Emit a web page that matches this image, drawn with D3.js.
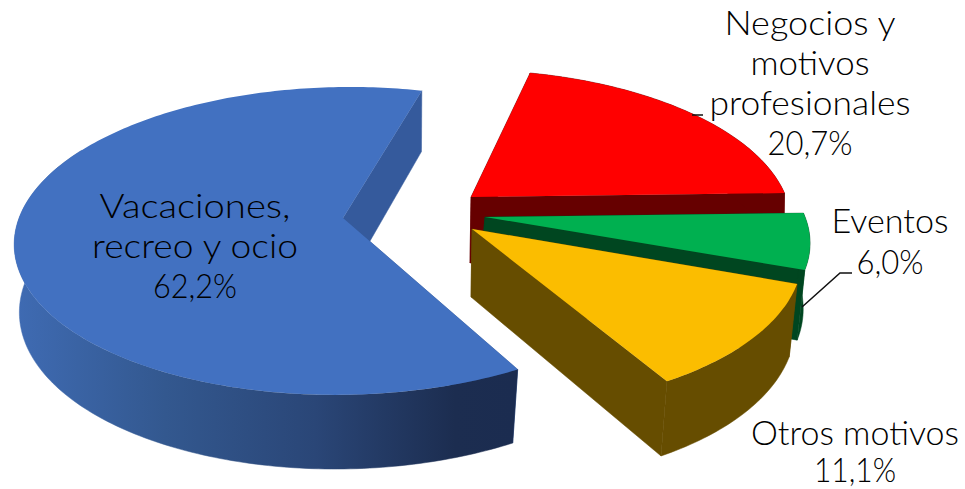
<!DOCTYPE html>
<html>
<head>
<meta charset="utf-8">
<script src="https://cdnjs.cloudflare.com/ajax/libs/d3/7.8.5/d3.min.js"></script>
<style>
  html, body { margin: 0; padding: 0; background: #fff; }
  svg { display: block; }
  text { font-family: "Lato", "Noto Sans", sans-serif; font-weight: 300; font-size: 34px; fill: #000; text-anchor: middle; }
</style>
</head>
<body>
<svg id="chart" width="965" height="489"></svg>
<script>
// Motivos de viaje, porcentaje sobre el total
const categories = ["Vacaciones, recreo y ocio", "Negocios y motivos profesionales", "Eventos", "Otros motivos"];
const shares = [62.2, 20.7, 6.0, 11.1];

const topColors = ["#4271C1", "#FF0000", "#00B050", "#FBBD00"];
const wallColors = ["#355A9C", "#660000", "#004620", "#664D00"];

// Rim of the pie, from light to dark as it turns towards the front right
const rimStops = [[0, "#3F6BB3"], [0.3, "#33588F"], [0.6, "#2A4677"], [0.88, "#1C2D50"], [1, "#1B2C50"]];

// Perspective of each exploded wedge: hub position and radii on the top and bottom planes
const topPlanes = [
  { x: 343, y: 218, rx: 325, ry: 150.5, shear: -1, tilt: -3, persp: 0.149 },
  { x: 471, y: 197, rx: 313, ry: 146, shear: 19, tilt: -5, persp: 0.149 },
  { x: 485, y: 217, rx: 318, ry: 146, shear: 19, tilt: -5, persp: 0.149 },
  { x: 472, y: 229, rx: 323, ry: 153, shear: 20, tilt: -6, persp: 0.149 }
];
const bottomPlanes = [
  { x: 343, y: 288, rx: 321, ry: 158, shear: 0, tilt: -4, persp: 0.127 },
  { x: 470, y: 263, rx: 313, ry: 160, shear: 22, tilt: -4, persp: 0.127 },
  { x: 479, y: 281, rx: 318, ry: 160, shear: 22, tilt: -4, persp: 0.127 },
  { x: 471, y: 297, rx: 318, ry: 162, shear: 22, tilt: -4, persp: 0.127 }
];

// Text blocks: wrapped lines, centre and baseline of the first line
const labelBlocks = [
  { lines: ["Vacaciones,", "recreo y ocio"], cx: 195, y: 218, pitch: 40, widths: [191, 206, 84] },
  { lines: ["Negocios y", "motivos", "profesionales"], cx: 810, y: 35, pitch: 40, widths: [171, 119, 201, 85] },
  { lines: ["Eventos"], cx: 890, y: 233, pitch: 41, widths: [117, 67] },
  { lines: ["Otros motivos"], cx: 855, y: 445, pitch: 37, widths: [208, 82] }
];

const leaderLines = [
  [[692, 115], [703, 115]],
  [[802, 307], [840, 273], [852, 273]]
];

const svg = d3.select("#chart");
const color = d3.scaleOrdinal().domain(categories).range(topColors);
const wallColor = d3.scaleOrdinal().domain(categories).range(wallColors);
const fmt = v => d3.format(".1f")(v).replace(".", ",") + "%";
const rad = d => d * Math.PI / 180;

// Project a unit-circle point at pie angle a onto one of a wedge's planes
function project(plane, a) {
  const X = Math.sin(a), Y = -Math.cos(a);
  const w = 1 - plane.persp * Y;
  return [
    plane.x + (plane.rx * X + plane.shear * Y) / w,
    plane.y + (plane.ry * Y + plane.tilt * X) / w
  ];
}

function arcPoints(plane, a0, a1) {
  const n = Math.max(8, Math.ceil((a1 - a0) / rad(1)));
  return d3.range(n + 1).map(i => project(plane, a0 + (a1 - a0) * i / n));
}

const pie = d3.pie().sort(null).startAngle(rad(152)).endAngle(rad(152) + 2 * Math.PI);
const wedges = pie(shares);
const outline = d3.line().curve(d3.curveLinear);
const lastVisibleRim = rad(300);

const gradient = svg.append("defs").append("linearGradient")
  .attr("id", "rim").attr("gradientUnits", "userSpaceOnUse")
  .attr("x1", 15).attr("x2", 515).attr("y1", 0).attr("y2", 0);
gradient.selectAll("stop").data(rimStops).join("stop")
  .attr("offset", d => d[0]).attr("stop-color", d => d[1]);

// Back to front: red, green, yellow, then the large blue wedge
const order = [1, 2, 3, 0];
const groups = svg.selectAll("g.wedge").data(order).join("g").attr("class", "wedge");

groups.each(function (i) {
  const g = d3.select(this);
  const w = wedges[i], top = topPlanes[i], bot = bottomPlanes[i];
  const cat = categories[i];
  const wall = wallColor(cat);

  // Cut faces, hub to rim on both sides of the wedge
  [w.startAngle, w.endAngle].forEach(a => {
    const face = [[top.x, top.y], project(top, a), project(bot, a), [bot.x, bot.y]];
    g.append("path").attr("d", outline(face) + "Z")
      .attr("fill", wall).attr("stroke", wall).attr("stroke-width", 0.5);
  });

  // Rim wall between the two arcs; the big wedge's rim stops where it turns away from the viewer
  const rimEnd = w.startAngle < lastVisibleRim ? Math.min(w.endAngle, lastVisibleRim) : w.endAngle;
  const upperRim = arcPoints(top, w.startAngle, rimEnd);
  const lowerRim = arcPoints(bot, w.startAngle, rimEnd).reverse();
  const rimPaint = i === 0 ? "url(#rim)" : wall;
  g.append("path").attr("d", outline(upperRim.concat(lowerRim)) + "Z")
    .attr("fill", rimPaint).attr("stroke", rimPaint).attr("stroke-width", 0.5);

  // Top face
  const upper = arcPoints(top, w.startAngle, w.endAngle);
  g.append("path").attr("d", outline([[top.x, top.y]].concat(upper)) + "Z")
    .attr("fill", color(cat));
});

// Leader lines to the outer labels
svg.selectAll("path.leader").data(leaderLines).join("path")
  .attr("class", "leader").attr("d", d => outline(d))
  .attr("fill", "none").attr("stroke", "#111").attr("stroke-width", 1.5);

// Labels: wrapped category name, then the share on its own line
labelBlocks.forEach((block, i) => {
  const rows = block.lines.concat(fmt(shares[i]));
  svg.append("g").selectAll("text").data(rows).join("text")
    .attr("x", block.cx)
    .attr("y", (d, k) => block.y + k * block.pitch)
    .attr("textLength", (d, k) => block.widths[k])
    .attr("lengthAdjust", "spacingAndGlyphs")
    .text(d => d);
});
</script>
</body>
</html>
